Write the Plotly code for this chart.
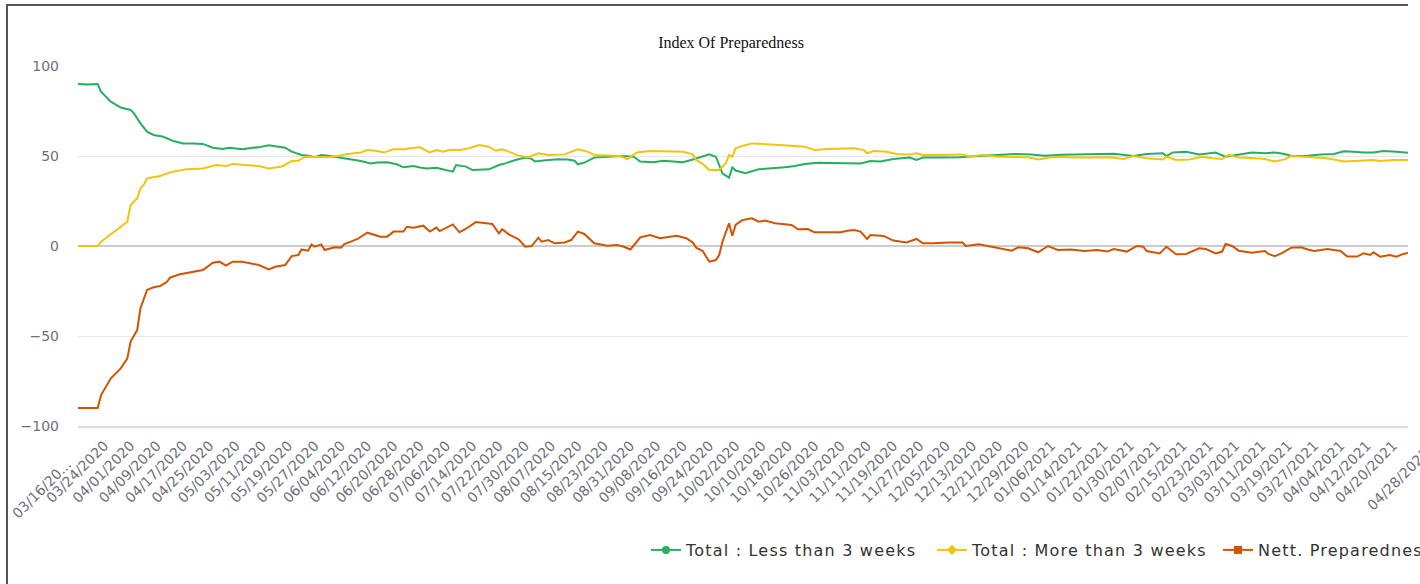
import datetime as dt
import plotly.graph_objects as go

START = dt.datetime(2020, 3, 16)

# ---- data (day offset from 03/16/2020, value) ----
less_days = [0, 3, 6, 7, 10, 13, 16, 17, 19, 21, 23, 26, 29, 32, 35, 38, 41, 44, 46, 48, 50, 53, 55, 58, 60, 62, 63, 65, 68, 70, 72, 74, 76, 79, 83, 86, 89, 91, 94, 97, 99, 102, 104, 106, 109, 111, 114, 115, 118, 120, 123, 125, 128, 130, 133, 136, 138, 139, 143, 146, 149, 151, 152, 154, 157, 161, 165, 169, 171, 175, 178, 181, 184, 187, 190, 192, 194, 195, 196, 198, 199, 200, 203, 207, 211, 215, 218, 221, 225, 230, 234, 238, 241, 244, 248, 253, 255, 257, 262, 268, 274, 280, 285, 290, 294, 299, 305, 310, 315, 321, 325, 330, 331, 333, 337, 341, 346, 349, 353, 357, 361, 364, 367, 369, 374, 378, 382, 385, 388, 391, 394, 397, 401, 405]
less_vals = [90, 89.7, 90, 85.7, 80.2, 76.9, 75.6, 73.7, 68.1, 63.5, 61.7, 60.7, 58.3, 57, 57, 56.7, 54.6, 53.9, 54.6, 54.2, 53.7, 54.6, 54.8, 55.9, 55.5, 55.2, 54.6, 52.4, 50.6, 50.2, 49.3, 50.5, 50.2, 49.3, 48.3, 47.2, 45.9, 46.4, 46.5, 45.4, 43.7, 44.4, 43.6, 43.1, 43.5, 42.6, 41.3, 45, 44.1, 42.2, 42.4, 42.6, 45, 45.9, 47.8, 49.1, 48.4, 46.9, 47.8, 48.2, 48.1, 47.4, 45.4, 46.3, 49.1, 49.6, 50, 49.6, 46.9, 46.5, 47.4, 46.9, 46.5, 48.1, 50, 50.9, 49.6, 45, 40.4, 38, 43.7, 41.9, 40.4, 42.6, 43.1, 43.7, 44.4, 45.6, 46.3, 46.3, 45.9, 45.9, 47.2, 46.9, 48.3, 49.1, 47.8, 49.1, 49.1, 49.3, 50, 50.4, 51.1, 50.9, 50.2, 50.7, 50.9, 51.1, 51.3, 50, 51.1, 51.5, 50, 52, 52.4, 50.9, 51.9, 49.6, 50.9, 51.9, 51.5, 52, 51.1, 50, 50.2, 50.9, 51.1, 52.6, 52.4, 51.9, 51.9, 52.8, 52.4, 51.7]

more_days = [0, 3, 6, 7, 11, 15, 16, 18, 19, 20, 21, 25, 28, 33, 38, 42, 45, 47, 51, 55, 58, 62, 65, 67, 69, 72, 76, 79, 82, 86, 88, 91, 93, 96, 99, 101, 104, 107, 109, 111, 113, 116, 119, 122, 125, 127, 129, 131, 134, 137, 140, 143, 148, 152, 155, 157, 162, 165, 167, 170, 174, 179, 184, 187, 188, 190, 192, 195, 197, 198, 199, 200, 202, 205, 209, 213, 217, 221, 224, 228, 232, 236, 239, 240, 242, 246, 249, 253, 255, 257, 262, 269, 271, 275, 280, 285, 289, 292, 297, 303, 310, 314, 318, 321, 325, 330, 331, 334, 338, 342, 345, 348, 350, 353, 358, 361, 364, 367, 369, 375, 380, 385, 390, 394, 396, 400, 405]
more_vals = [0, 0, 0, 2.4, 7.9, 13.5, 22.8, 26.5, 32, 33.9, 37.6, 38.9, 40.9, 42.6, 43.1, 45, 44.4, 45.6, 45, 44.4, 43.1, 44.2, 47.2, 47.4, 49.6, 49.6, 49.3, 50, 51.1, 52, 53.3, 52.8, 51.9, 53.7, 53.7, 54.3, 54.8, 52, 53.3, 52.4, 53.3, 53.3, 54.3, 56.1, 55.2, 52.9, 53.7, 52.4, 50.2, 49.3, 51.5, 50.6, 50.9, 53.7, 52.4, 50.6, 50, 50, 48.1, 52, 52.8, 52.8, 52.4, 50.9, 47.8, 45.6, 42.2, 42.2, 45.9, 50.6, 49.6, 54.3, 55.6, 57, 56.7, 56.1, 55.7, 55.2, 53.3, 53.9, 53.9, 54.3, 53.3, 51.5, 52.8, 52.4, 51.1, 50.9, 51.5, 50.6, 50.6, 50.9, 49.6, 50.6, 49.6, 49.4, 49.3, 48.1, 49.6, 49.1, 49.1, 49.3, 48.3, 50, 48.7, 48.1, 49.6, 47.8, 48.1, 49.6, 48.7, 48.3, 50.6, 49.1, 48.7, 48.3, 46.9, 48.1, 50, 49.1, 48.7, 46.9, 47.4, 47.8, 47.2, 47.8, 47.8]

nett_days = [0, 3, 6, 7, 10, 13, 15, 16, 18, 19, 21, 23, 25, 27, 28, 31, 34, 38, 41, 43, 45, 47, 50, 52, 55, 58, 60, 63, 65, 67, 68, 70, 71, 72, 74, 75, 78, 80, 81, 83, 85, 88, 90, 92, 94, 96, 99, 100, 102, 105, 107, 109, 110, 112, 114, 116, 118, 121, 123, 126, 128, 129, 131, 134, 136, 138, 140, 141, 143, 145, 148, 150, 152, 154, 157, 161, 164, 166, 168, 169, 171, 174, 177, 182, 185, 187, 188, 190, 192, 194, 195, 196, 198, 199, 200, 202, 205, 207, 209, 212, 215, 217, 219, 222, 224, 228, 232, 234, 236, 238, 240, 241, 245, 248, 252, 255, 257, 260, 262, 265, 269, 270, 274, 279, 284, 286, 289, 292, 295, 298, 302, 306, 310, 313, 315, 319, 322, 324, 325, 329, 331, 334, 337, 341, 343, 346, 348, 349, 351, 353, 357, 361, 362, 364, 366, 369, 372, 374, 376, 380, 384, 386, 389, 391, 393, 394, 396, 399, 401, 403, 405]
nett_vals = [-90, -90.2, -90, -82.8, -73.5, -68, -62.4, -53.1, -46.7, -34.6, -24.4, -22.9, -22.2, -20, -17.6, -15.7, -14.6, -13.3, -9.3, -8.7, -10.9, -8.7, -8.7, -9.6, -10.6, -13, -11.5, -10.6, -5.6, -5, -1.9, -2.6, 0.9, -0.4, 0.9, -2.2, -0.7, -0.9, 1.1, 2.4, 3.9, 7.4, 6.5, 5.2, 5.2, 8, 8, 10.7, 10.2, 11.3, 8, 10.2, 8.3, 10.2, 12, 7.6, 9.6, 13.3, 12.9, 12.2, 7, 9.3, 6.5, 3.7, -0.4, 0, 4.6, 2.4, 3.3, 1.5, 2, 3.3, 8, 6.7, 1.5, 0.2, 0.6, -0.4, -1.9, 0.2, 4.8, 6.1, 4.3, 5.7, 4.3, 1.9, -0.9, -2.8, -8.7, -7.8, -5, 2.4, 12.6, 5.7, 11.7, 14.4, 15.4, 13.5, 14.1, 12.6, 12.2, 11.7, 9.3, 9.4, 7.6, 7.6, 7.6, 8.5, 8.9, 8, 3.9, 6.1, 5.6, 3, 2, 3.9, 1.5, 1.5, 1.7, 2, 1.9, 0, 0.9, -0.7, -2.6, -0.7, -1.3, -3.5, 0, -2.2, -1.9, -2.8, -2.2, -3.1, -1.7, -3.1, 0, -0.4, -2.8, -4.1, -0.4, -4.6, -4.4, -1.3, -1.7, -4.1, -3.1, 1.1, 0, -2.6, -3.7, -2.8, -4.4, -5.6, -4.1, -0.9, -0.7, -1.9, -2.8, -1.7, -2.8, -5.9, -5.9, -4.1, -5, -3.5, -5.9, -5, -5.9, -4.4, -3.7]

tick_dates = ["03/16/2020", "03/24/2020", "04/01/2020", "04/09/2020", "04/17/2020", "04/25/2020",
              "05/03/2020", "05/11/2020", "05/19/2020", "05/27/2020", "06/04/2020", "06/12/2020",
              "06/20/2020", "06/28/2020", "07/06/2020", "07/14/2020", "07/22/2020", "07/30/2020",
              "08/07/2020", "08/15/2020", "08/23/2020", "08/31/2020", "09/08/2020", "09/16/2020",
              "09/24/2020", "10/02/2020", "10/10/2020", "10/18/2020", "10/26/2020", "11/03/2020",
              "11/11/2020", "11/19/2020", "11/27/2020", "12/05/2020", "12/13/2020", "12/21/2020",
              "12/29/2020", "01/06/2021", "01/14/2021", "01/22/2021", "01/30/2021", "02/07/2021",
              "02/15/2021", "02/23/2021", "03/03/2021", "03/11/2021", "03/19/2021", "03/27/2021",
              "04/04/2021", "04/12/2021", "04/20/2021", "04/28/2021"]
first_label = "03/16/20..."

y_ticks = [-100, -50, 0, 50, 100]

series_names = ["Total : Less than 3 weeks", "Total : More than 3 weeks", "Nett. Preparedness"]
colors = ["#27AE60", "#F1C40F", "#D35400"]
symbols = ["circle", "diamond", "square"]

# ---- layout geometry ----
W, H = 1420, 584
ML, MR, MT, MB = 78, 12, 66, 158
PW, PH = W - ML - MR, H - MT - MB
VISIBLE_DAYS = 404.5
x_end = START + dt.timedelta(days=VISIBLE_DAYS)
font_sans = "DejaVu Sans"
tick_font = dict(family=font_sans, size=14, color="#6E7079")
ROT_SHIFT = 14  # rotated annotation box: right edge lies past the text end


def to_dates(days):
    return [START + dt.timedelta(days=d) for d in days]


def px_x(p):
    return (p - ML) / PW


def px_y(p):
    return (H - MB - p) / PH


def spaced(t):
    return '<span style="letter-spacing:1.2px">' + t + '</span>'


fig = go.Figure()
data = [(less_days, less_vals), (more_days, more_vals), (nett_days, nett_vals)]
for (days, vals), name, c in zip(data, series_names, colors):
    fig.add_trace(go.Scatter(x=to_dates(days), y=vals, mode="lines", name=name,
                             line=dict(color=c, width=2), showlegend=False,
                             hoverinfo="skip"))
# legend entries
for name, c, s in zip(series_names, colors, symbols):
    fig.add_trace(go.Scatter(x=[None], y=[None], mode="lines+markers", name=spaced(name),
                             line=dict(color=c, width=2),
                             marker=dict(color=c, symbol=s, size=8)))

tick_dt = [dt.datetime.strptime(t, "%m/%d/%Y") for t in tick_dates]
in_vals = [d for d in tick_dt if d <= x_end]
in_text = [""] + tick_dates[1:len(in_vals)]

fig.update_layout(
    width=W, height=H,
    margin=dict(l=ML, r=MR, t=MT, b=MB, autoexpand=False),
    paper_bgcolor="white", plot_bgcolor="white",
    title=dict(text="Index Of Preparedness", x=731 / W, xanchor="center",
               y=1 - 42 / H, yanchor="middle", yref="container",
               font=dict(family="Liberation Serif", size=16, color="#111111")),
    xaxis=dict(type="date", range=[START, x_end], tickmode="array",
               tickvals=in_vals, ticktext=in_text, tickangle=-45,
               showgrid=False, zeroline=False, showline=True,
               linecolor="#D5DAEC", linewidth=2, ticks="",
               ticklabelstandoff=4, tickfont=tick_font),
    yaxis=dict(range=[-100, 100], tickmode="array", tickvals=y_ticks,
               showgrid=True, gridcolor="#E6E6E6", gridwidth=1,
               zeroline=True, zerolinecolor="#CCCCCC", zerolinewidth=2,
               showline=False, ticks="", ticklabelstandoff=18, tickfont=tick_font),
    legend=dict(orientation="h", x=px_x(646), xanchor="left", y=px_y(550),
                yanchor="middle", entrywidthmode="pixels", entrywidth=241,
                font=dict(family=font_sans, size=16, color="#333333"),
                bgcolor="rgba(0,0,0,0)"),
    showlegend=True,
)

# first (truncated) category label
fig.add_annotation(xref="paper", yref="paper", x=px_x(63 + ROT_SHIFT), y=px_y(454),
                   text=first_label, textangle=-45, showarrow=False,
                   xanchor="right", yanchor="top", font=tick_font)
# last category label, partly visible at the clipped right edge
for d, t in zip(tick_dt, tick_dates):
    if d > x_end:
        tick_px = ML + (d - START).days / VISIBLE_DAYS * PW
        fig.add_annotation(xref="paper", yref="paper",
                           x=px_x(tick_px + 2 + ROT_SHIFT), y=px_y(442),
                           text=t, textangle=-45, showarrow=False,
                           xanchor="right", yanchor="top", font=tick_font)

# container border (top and left, right side clipped)
fig.add_shape(type="line", xref="paper", yref="paper", x0=px_x(7), x1=px_x(7),
              y0=px_y(4), y1=px_y(600), line=dict(color="#555555", width=2))
fig.add_shape(type="line", xref="paper", yref="paper", x0=px_x(6), x1=px_x(1408),
              y0=px_y(5), y1=px_y(5), line=dict(color="#555555", width=2))

fig.write_html("out.html", config={"displayModeBar": False},
               post_script="document.body.style.margin='0';")
